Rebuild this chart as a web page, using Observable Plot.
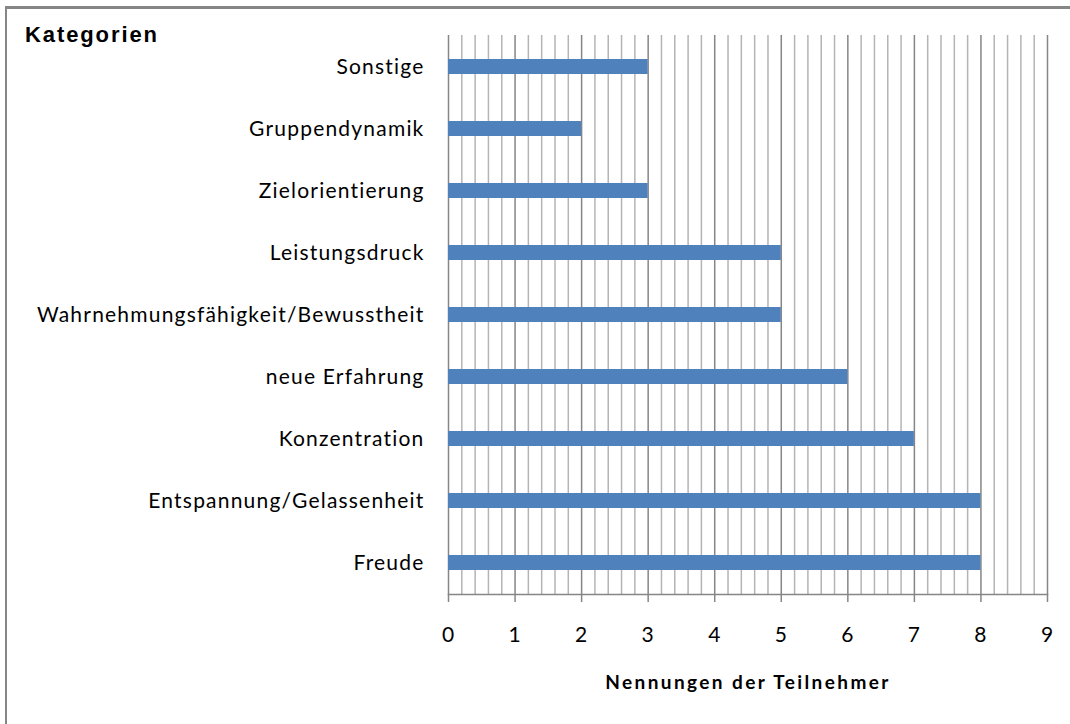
<!DOCTYPE html>
<html>
<head>
<meta charset="utf-8">
<script src="https://cdn.jsdelivr.net/npm/d3@7"></script>
<script src="https://cdn.jsdelivr.net/npm/@observablehq/plot@0.6"></script>
<style>
  html, body { margin: 0; padding: 0; background: #fff; width: 1070px; height: 724px; overflow: hidden; }
  #wrap { position: relative; width: 1070px; height: 724px; }
  #border { position: absolute; left: 5px; top: 6px; width: 1100px; height: 800px;
            border-top: 3px solid #868686; border-left: 2px solid #868686; box-sizing: border-box; }
  #title { position: absolute; left: 25px; top: 22px; font-family: "Liberation Sans", Arial, sans-serif;
           font-weight: bold; font-size: 22px; letter-spacing: 1.9px; color: #000; }
  #chart { position: absolute; left: 0; top: 0; }
  #chart g[aria-label="y-axis tick label"] text { letter-spacing: 1.2px; }
  #chart g[aria-label="x-axis tick label"] text { letter-spacing: 1px; }
  #chart g[aria-label="text"] text { letter-spacing: 2.4px; }
</style>
</head>
<body>
<div id="wrap">
  <div id="border"></div>
  <div id="chart"></div>
  <div id="title">Kategorien</div>
</div>
<script>
const categories = [
  "Sonstige",
  "Gruppendynamik",
  "Zielorientierung",
  "Leistungsdruck",
  "Wahrnehmungsfähigkeit/Bewusstheit",
  "neue Erfahrung",
  "Konzentration",
  "Entspannung/Gelassenheit",
  "Freude"
];
const values = [3, 2, 3, 5, 5, 6, 7, 8, 8];
const xTicks = [0, 1, 2, 3, 4, 5, 6, 7, 8, 9];
const xLabel = "Nennungen der Teilnehmer";

const data = categories.map((c, i) => ({category: c, value: values[i]}));
const minorTicks = d3.range(0, 45).map(i => i / 5).filter(v => Math.abs(v - Math.round(v)) > 1e-6);

const chart = Plot.plot({
  width: 1070,
  height: 724,
  marginLeft: 448,
  marginRight: 23,
  marginTop: 35,
  marginBottom: 130,
  style: {fontFamily: "Lato, sans-serif", background: "transparent", overflow: "visible"},
  x: {domain: [0, 9]},
  y: {domain: categories, paddingInner: 0.76, paddingOuter: 0.38},
  marks: [
    Plot.ruleX(minorTicks, {stroke: "#b4b4b4", strokeWidth: 1.5}),
    Plot.ruleX(xTicks, {stroke: "#868686", strokeWidth: 1.5}),
    Plot.frame({anchor: "bottom", stroke: "#868686", strokeWidth: 1.5}),
    Plot.barX(data, {y: "category", x: "value", fill: "#4f81bd"}),
    Plot.axisX({ticks: xTicks, tickSize: 8, tickPadding: 25, stroke: "#868686", strokeWidth: 1.5,
                fontSize: 21, label: null, fill: "#000"}),
    Plot.axisY({tickSize: 0, tickPadding: 24, fontSize: 21, label: null, fill: "#000"}),
    Plot.text([xLabel], {frameAnchor: "bottom", dy: 94, fontSize: 19, fontWeight: "bold", fill: "#000"})
  ]
});
document.getElementById("chart").appendChild(chart);
</script>
</body>
</html>
